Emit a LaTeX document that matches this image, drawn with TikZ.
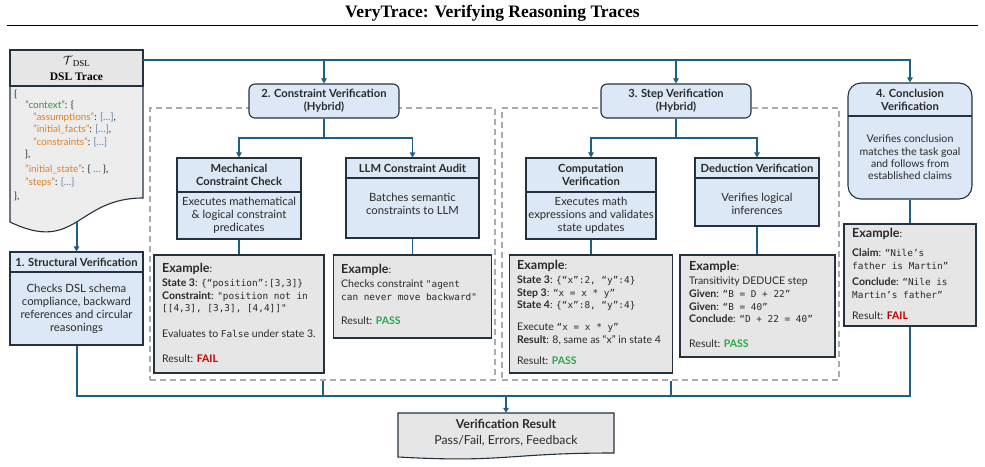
\documentclass[tikz,border=0pt]{standalone}
\usepackage{fontspec}
\setmainfont{Lato}
\setmonofont{DejaVu Sans Mono}
\newfontfamily\serifT{Liberation Serif}
\usetikzlibrary{arrows.meta}
\definecolor{conn}{HTML}{1E5F87}
\definecolor{bord}{HTML}{24323F}
\definecolor{lblue}{HTML}{DCE8F5}
\definecolor{lgray}{HTML}{E6E6E6}
\definecolor{lgrayb}{HTML}{EDEDED}
\definecolor{txt}{HTML}{2A2A2A}
\definecolor{dashc}{HTML}{ABABAB}
\definecolor{passg}{HTML}{25A94B}
\definecolor{failr}{HTML}{C00000}
\definecolor{cgreen}{HTML}{3E8E41}
\definecolor{corange}{HTML}{D9822B}
\definecolor{cblue}{HTML}{5A7FA8}
\newcommand{\hdrfont}{\fontsize{11.2}{13}\selectfont\bfseries}
\newcommand{\bodyfont}{\fontsize{11.3}{13}\selectfont}
\newcommand{\conclfont}{\fontsize{10.6}{12.3}\selectfont}
\newcommand{\exfont}{\fontsize{10.5}{12}\selectfont}
\newcommand{\exhfont}{\fontsize{12.5}{14}\selectfont\bfseries}
\newcommand{\codefont}{\fontsize{9.9}{11}\selectfont}
\newcommand{\mono}[1]{{\ttfamily\fontsize{9.4}{12}\selectfont #1}}
\tikzset{
  mainline/.style={draw=conn, line width=2pt},
  brline/.style={draw=conn, line width=1.4pt},
  tip/.style={-{Triangle[length=5pt,width=5.5pt]}},
  hbox/.style={draw=bord, line width=1.1pt, fill=lblue, inner sep=0pt, align=center, text=txt, font=\hdrfont},
  bbox/.style={draw=bord, line width=1.1pt, fill=lblue, inner sep=0pt, align=center, text=txt, font=\bodyfont},
  exbox/.style={draw=bord, line width=1.4pt, fill=lgray, inner sep=0pt},
  grp/.style={draw=dashc, dash pattern=on 6pt off 4pt, line width=1.2pt, inner sep=0pt},
  ln/.style={anchor=west, inner sep=0pt, text=txt, font=\exfont, text height=7.5pt, text depth=2.5pt},
  code/.style={anchor=west, inner sep=0pt, text=txt, font=\codefont, text height=6.5pt, text depth=2pt},
}
\begin{document}
\begin{tikzpicture}[x=1pt,y=-1pt]
\useasboundingbox (0,0) rectangle (985,466);

% title
\node[font=\serifT\bfseries\fontsize{17.5}{20}\selectfont, inner sep=0pt] (title) at (492.5,13) {VeryTrace: Verifying Reasoning Traces};
\draw[line width=1.3pt] (7,25.5) -- (978,25.5);

% dashed groups
\node[grp, minimum width=345pt, minimum height=272pt] (cgrp) at (322.5,244) {};
\node[grp, minimum width=337pt, minimum height=272pt] (sgrp) at (670.5,244) {};

% DSL trace document
\fill[lgrayb] (10,86) -- (143,86) -- (143,198) .. controls (76.5,198) and (76.5,254) .. (10,222) -- cycle;
\draw[draw=bord, line width=1.1pt] (10,86) -- (143,86) -- (143,198) .. controls (76.5,198) and (76.5,254) .. (10,222) -- cycle;
\node[draw=bord, line width=1.1pt, fill=lgray, inner sep=0pt, minimum width=133pt, minimum height=36pt, align=center, text=black, font=\serifT\fontsize{11.5}{16}\selectfont] (dslH) at (76.5,68)
  {{\large$\mathcal{T}$}\raisebox{-2.5pt}{\fontsize{9}{9}\selectfont DSL}\\\textbf{DSL Trace}};
\node[code] (c1) at (14,95) {\{};
\node[code] (c2) at (25,106) {\textcolor{cgreen}{"context"}: \{};
\node[code] (c3) at (33,118) {\textcolor{corange}{"assumptions"}: \textcolor{cblue}{[…]},};
\node[code] (c4) at (33,130.5) {\textcolor{corange}{"initial\_facts"}: \textcolor{cblue}{[…]},};
\node[code] (c5) at (33,143) {\textcolor{corange}{"constraints"}: \textcolor{cblue}{[…]}};
\node[code] (c6) at (25,155) {\},};
\node[code] (c7) at (25,170) {\textcolor{corange}{"initial\_state"}: \{ \textcolor{cblue}{…} \},};
\node[code] (c8) at (25,183) {\textcolor{corange}{"steps"}: \textcolor{cblue}{[…]}};
\node[code] (c9) at (14,197) {\},};
\coordinate (dslR) at (143,60);
\coordinate (dslB) at (76.5,222);

% structural verification
\node[hbox, minimum width=133pt, minimum height=20pt] (strH) at (76.5,262) {1. Structural Verification};
\node[bbox, minimum width=133pt, minimum height=73pt] (strB) at (76.5,308.5) {Checks DSL schema\\compliance, backward\\references and circular\\reasonings};

% constraint verification
\node[hbox, rounded corners=6pt, minimum width=150pt, minimum height=34pt] (consH) at (324,101) {2. Constraint Verification\\(Hybrid)};
\node[hbox, minimum width=124pt, minimum height=34pt] (mechH) at (239,175) {Mechanical\\Constraint Check};
\node[bbox, minimum width=124pt, minimum height=47pt] (mechB) at (239,215.5) {Executes mathematical\\\& logical constraint\\predicates};
\node[hbox, minimum width=133pt, minimum height=20pt] (llmH) at (412.5,168) {LLM Constraint Audit};
\node[bbox, minimum width=133pt, minimum height=60pt] (llmB) at (412.5,208) {};
\node[font=\bodyfont, text=txt, align=center, inner sep=0pt] (llmT) at (412.5,204) {Batches semantic\\constraints to LLM};

% step verification
\node[hbox, rounded corners=6pt, minimum width=150pt, minimum height=34pt] (stepH) at (676,101) {3. Step Verification\\(Hybrid)};
\node[hbox, minimum width=130pt, minimum height=34pt] (compH) at (591,175) {Computation\\Verification};
\node[bbox, minimum width=130pt, minimum height=47pt] (compB) at (591,215.5) {Executes math\\expressions and validates\\state updates};
\node[hbox, minimum width=124pt, minimum height=20pt] (dedH) at (757,168) {Deduction Verification};
\node[bbox, minimum width=124pt, minimum height=48pt] (dedB) at (757,202) {};
\node[font=\bodyfont, text=txt, align=center, inner sep=0pt] (dedT) at (757,204) {Verifies logical\\inferences};

% conclusion verification
\node[draw=bord, line width=1.1pt, fill=lblue, rounded corners=13pt, minimum width=124pt, minimum height=116pt, inner sep=0pt] (concl) at (910,141) {};
\draw[draw=bord, line width=1.1pt] (848,116) -- (972,116);
\node[font=\hdrfont, text=txt, align=center, inner sep=0pt] (conclH) at (910,99.5) {4. Conclusion\\Verification};
\node[font=\conclfont, text=txt, align=center, inner sep=0pt] (conclB) at (910,157.5) {Verifies conclusion\\matches the task goal\\and follows from\\established claims};

% example boxes
\node[exbox, minimum width=170pt, minimum height=118pt] (ex1) at (239,314) {};
\node[exbox, minimum width=158pt, minimum height=83pt] (ex2) at (412.5,296.5) {};
\node[exbox, minimum width=163pt, minimum height=118pt] (ex3) at (591,314) {};
\node[exbox, minimum width=155pt, minimum height=102pt] (ex4) at (757.5,306) {};
\node[exbox, minimum width=132pt, minimum height=102pt] (ex5) at (910,275) {};

% ex1
\node[ln] (e1a) at (162,270) {{\exhfont Example}:};
\node[ln] (e1b) at (162,284) {\textbf{State 3}: \mono{\{“position”:[3,3]\}}};
\node[ln] (e1c) at (162,296.5) {\textbf{Constraint}: \mono{"position not in}};
\node[ln] (e1d) at (162,309) {\mono{[[4,3], [3,3], [4,4]]"}};
\node[ln] (e1e) at (162,335) {Evaluates to \mono{False} under state 3.};
\node[ln] (e1f) at (162,360) {Result: \textcolor{failr}{\textbf{FAIL}}};

% ex2
\node[ln] (e2a) at (341,271) {{\exhfont Example}:};
\node[ln] (e2b) at (341,285) {Checks constraint \mono{"agent}};
\node[ln] (e2c) at (341,298) {\mono{can never move backward"}};
\node[ln] (e2d) at (341,322) {Result: \textcolor{passg}{\textbf{PASS}}};

% ex3
\node[ln] (e3a) at (517,267) {{\exhfont Example}:};
\node[ln] (e3b) at (517,281) {\textbf{State 3}: \mono{\{“x”:2, “y”:4\}}};
\node[ln] (e3c) at (517,293.5) {\textbf{Step 3}: \mono{“x = x * y”}};
\node[ln] (e3d) at (517,306) {\textbf{State 4}: \mono{\{“x”:8, “y”:4\}}};
\node[ln] (e3e) at (517,328) {Execute \mono{“x = x * y”}};
\node[ln] (e3f) at (517,340.5) {\textbf{Result}: 8, same as “x” in state 4};
\node[ln] (e3g) at (517,362) {Result: \textcolor{passg}{\textbf{PASS}}};

% ex4
\node[ln] (e4a) at (689,268) {{\exhfont Example}:};
\node[ln] (e4b) at (689,282) {Transitivity DEDUCE step};
\node[ln] (e4c) at (689,295) {\textbf{Given}: \mono{“B = D + 22”}};
\node[ln] (e4d) at (689,307.5) {\textbf{Given}: \mono{“B = 40”}};
\node[ln] (e4e) at (689,320) {\textbf{Conclude}: \mono{“D + 22 = 40”}};
\node[ln] (e4f) at (689,345) {Result: \textcolor{passg}{\textbf{PASS}}};

% ex5
\node[ln] (e5a) at (852,235) {{\exhfont Example}:};
\node[ln] (e5b) at (852,254) {\textbf{Claim}: \mono{“Nile’s}};
\node[ln] (e5c) at (852,266.5) {\mono{father is Martin”}};
\node[ln] (e5d) at (852,283) {\textbf{Conclude}: \mono{“Nile is}};
\node[ln] (e5e) at (852,295.5) {\mono{Martin’s father”}};
\node[ln] (e5f) at (852,317) {Result: \textcolor{failr}{\textbf{FAIL}}};

% result document
\fill[lgray] (398,413) -- (614,413) -- (614,453) .. controls (506,453) and (506,463) .. (398,457) -- cycle;
\draw[draw=bord, line width=1.1pt] (398,413) -- (614,413) -- (614,453) .. controls (506,453) and (506,463) .. (398,457) -- cycle;
\node[minimum width=216pt, minimum height=40pt, inner sep=0pt, align=center, text=txt, font=\fontsize{12.3}{16}\selectfont] (res) at (506,433)
  {\textbf{Verification Result}\\Pass/Fail, Errors, Feedback};

% connectors: top bus
\draw[mainline, tip] (dslR) -| (concl.north);
\draw[mainline, tip] (consH.north |- dslR) -- (consH.north);
\draw[mainline, tip] (stepH.north |- dslR) -- (stepH.north);
\draw[mainline, tip] (dslB) -- (strH.north);

% branches
\coordinate (cbr) at (324,138);
\draw[brline] (consH.south) -- (cbr);
\draw[brline, tip] (cbr) -| (mechH.north);
\draw[brline, tip] (cbr) -| (llmH.north);
\coordinate (sbr) at (676,138);
\draw[brline] (stepH.south) -- (sbr);
\draw[brline, tip] (sbr) -| (compH.north);
\draw[brline, tip] (sbr) -| (dedH.north);

\draw[brline] (mechB.south) -- (ex1.north);
\draw[brline] (llmB.south) -- (ex2.north);
\draw[brline] (compB.south) -- (ex3.north);
\draw[brline] (dedB.south) -- (dedB.south |- ex4.north);
\draw[brline] (concl.south) -- (ex5.north);

% bottom bus
\coordinate (busL) at (76.5,396);
\coordinate (busR) at (910,396);
\draw[mainline] (strB.south) -- (busL) -- (busR) -- (ex5.south);
\draw[mainline] (cgrp.south) -- (cgrp.south |- busL);
\draw[mainline] (sgrp.south) -- (sgrp.south |- busL);
\draw[mainline, tip] (res.north |- busL) -- (res.north);
\end{tikzpicture}
\end{document}
